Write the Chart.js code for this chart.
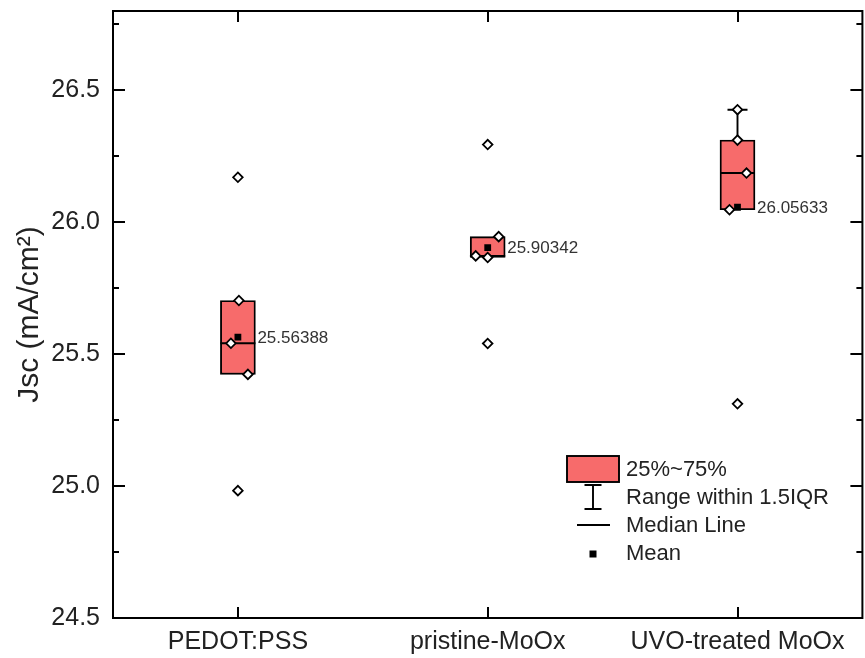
<!DOCTYPE html>
<html>
<head>
<meta charset="utf-8">
<script src="https://cdn.jsdelivr.net/npm/chart.js@4"></script>
<style>
  html, body { margin: 0; padding: 0; background: #fff; overflow: hidden; }
</style>
</head>
<body>
<canvas id="jscChart" width="869" height="658"></canvas>
<script>
const categories = ['PEDOT:PSS', 'pristine-MoOx', 'UVO-treated MoOx'];
const pedotJsc = [26.170, 25.703, 25.541, 25.423, 24.9824];
const pristineJsc = [26.294, 25.945, 25.872, 25.866, 25.5401];
const uvoJsc = [26.426, 26.311, 26.186, 26.047, 25.31165];
const yTicks = [24.5, 25.0, 25.5, 26.0, 26.5];
const legendLabels = ['25%~75%', 'Range within 1.5IQR', 'Median Line', 'Mean'];

// sideways spread of the overlaid points, in category units
const pointSpread = [
    [0, 0.004, -0.028, 0.04, 0],
    [0, 0.044, -0.048, 0, 0],
    [0, 0, 0.036, -0.032, 0]
];

const BOX_COLOR = '#f76b6b';
const FONT = "'Liberation Sans', Arial, sans-serif";
const BOX_WIDTH = 35;
const LINE = 1.9;

function median(arr) {
    const m = arr.length;
    return m % 2 ? arr[(m - 1) / 2] : (arr[m / 2 - 1] + arr[m / 2]) / 2;
}

// Tukey hinges, whiskers within 1.5 IQR, mean
function boxStats(values) {
    const s = [...values].sort((a, b) => a - b);
    const n = s.length;
    const half = Math.floor(n / 2);
    const lower = s.slice(0, n % 2 ? half + 1 : half);
    const upper = s.slice(half);
    const q1 = median(lower);
    const q3 = median(upper);
    const iqr = q3 - q1;
    const inside = s.filter(v => v >= q1 - 1.5 * iqr && v <= q3 + 1.5 * iqr);
    return {
        q1: q1,
        q3: q3,
        med: median(s),
        lo: Math.min(...inside),
        hi: Math.max(...inside),
        mean: s.reduce((a, b) => a + b, 0) / n
    };
}

const groups = [pedotJsc, pristineJsc, uvoJsc];
const stats = groups.map(boxStats);

const pointData = [];
groups.forEach((vals, i) => {
    vals.forEach((v, j) => pointData.push({ x: i + pointSpread[i][j], y: v }));
});

// median lines, whiskers and mean labels on top of the boxes
const boxExtras = {
    id: 'boxExtras',
    afterDatasetDraw(chart, args) {
        if (args.index !== 0) return;
        const ctx = chart.ctx;
        const xs = chart.scales.x, ys = chart.scales.y;
        ctx.save();
        ctx.strokeStyle = '#000';
        ctx.lineWidth = LINE;
        stats.forEach((st, i) => {
            const cx = xs.getPixelForValue(i);
            const half = BOX_WIDTH / 2;
            // median
            const ym = ys.getPixelForValue(st.med);
            ctx.beginPath();
            ctx.moveTo(cx - half, ym);
            ctx.lineTo(cx + half, ym);
            ctx.stroke();
            // whiskers
            [[st.q3, st.hi], [st.q1, st.lo]].forEach(([from, to]) => {
                if (Math.abs(to - from) < 1e-9) return;
                const y0 = ys.getPixelForValue(from), y1 = ys.getPixelForValue(to);
                ctx.beginPath();
                ctx.moveTo(cx, y0);
                ctx.lineTo(cx, y1);
                ctx.moveTo(cx - 10, y1);
                ctx.lineTo(cx + 10, y1);
                ctx.stroke();
            });
        });
        ctx.restore();
    },
    afterDatasetsDraw(chart) {
        const ctx = chart.ctx;
        const xs = chart.scales.x, ys = chart.scales.y;
        ctx.save();
        ctx.font = '17px ' + FONT;
        ctx.fillStyle = '#333';
        ctx.textAlign = 'left';
        ctx.textBaseline = 'middle';
        stats.forEach((st, i) => {
            const x = xs.getPixelForValue(i) + BOX_WIDTH / 2 + 2;
            ctx.fillText(st.mean.toFixed(5), x, ys.getPixelForValue(st.mean) + 1);
        });
        ctx.restore();
    }
};

// closed frame with inward ticks, plus the legend
const frame = {
    id: 'frame',
    afterDraw(chart) {
        const ctx = chart.ctx;
        const a = chart.chartArea;
        const xs = chart.scales.x, ys = chart.scales.y;
        ctx.save();
        ctx.strokeStyle = '#000';
        ctx.lineWidth = 2;
        ctx.strokeRect(a.left, a.top, a.right - a.left, a.bottom - a.top);

        ctx.beginPath();
        for (let v = 24.5; v <= 26.8 + 1e-9; v += 0.25) {
            const y = Math.round(ys.getPixelForValue(v));
            const major = Math.abs(v * 2 - Math.round(v * 2)) < 1e-6;
            const len = major ? 12 : 6;
            ctx.moveTo(a.left, y);
            ctx.lineTo(a.left + len, y);
            ctx.moveTo(a.right, y);
            ctx.lineTo(a.right - len, y);
        }
        categories.forEach((c, i) => {
            const x = Math.round(xs.getPixelForValue(i));
            ctx.moveTo(x, a.bottom);
            ctx.lineTo(x, a.bottom - 11);
            ctx.moveTo(x, a.top);
            ctx.lineTo(x, a.top + 11);
        });
        ctx.stroke();

        // legend
        const lx = 567, ly = 456;
        ctx.lineWidth = LINE;
        ctx.fillStyle = BOX_COLOR;
        ctx.fillRect(lx, ly, 52, 26);
        ctx.strokeRect(lx, ly, 52, 26);

        const bx = lx + 26;
        ctx.beginPath();
        ctx.moveTo(bx, 485);
        ctx.lineTo(bx, 509);
        ctx.moveTo(bx - 8.5, 485);
        ctx.lineTo(bx + 8.5, 485);
        ctx.moveTo(bx - 8.5, 509);
        ctx.lineTo(bx + 8.5, 509);
        ctx.moveTo(bx - 16, 525);
        ctx.lineTo(bx + 17, 525);
        ctx.stroke();

        ctx.fillStyle = '#000';
        ctx.fillRect(bx - 3.5, 550.5, 7, 7);

        ctx.font = '22px ' + FONT;
        ctx.fillStyle = '#222';
        ctx.textAlign = 'left';
        ctx.textBaseline = 'middle';
        const rows = [469, 497, 525, 553];
        legendLabels.forEach((t, k) => ctx.fillText(t, 626, rows[k] + 1));
        ctx.restore();
    }
};

new Chart(document.getElementById('jscChart'), {
    type: 'bar',
    data: {
        datasets: [
            {
                type: 'bar',
                data: stats.map((st, i) => ({ x: i, y: [st.q1, st.q3] })),
                backgroundColor: BOX_COLOR,
                borderColor: '#000',
                borderWidth: LINE,
                borderSkipped: false,
                barThickness: BOX_WIDTH,
                order: 3
            },
            {
                type: 'scatter',
                data: pointData,
                pointStyle: 'rectRot',
                pointRadius: 4.8,
                pointBackgroundColor: '#fff',
                pointBorderColor: '#000',
                pointBorderWidth: 1.8,
                order: 2
            },
            {
                type: 'scatter',
                data: stats.map((st, i) => ({ x: i, y: st.mean })),
                pointStyle: 'rect',
                pointRadius: 4.8,
                pointBackgroundColor: '#000',
                pointBorderColor: '#000',
                pointBorderWidth: 0,
                order: 1
            }
        ]
    },
    options: {
        responsive: false,
        animation: false,
        layout: { padding: { top: 11, right: 0, left: 0, bottom: 0 } },
        plugins: {
            legend: { display: false },
            tooltip: { enabled: false }
        },
        scales: {
            x: {
                type: 'linear',
                min: -0.5,
                max: 2.5,
                offset: false,
                grid: { display: false, drawTicks: false, offset: false },
                border: { display: false },
                afterBuildTicks: scale => { scale.ticks = categories.map((c, i) => ({ value: i })); },
                afterFit: scale => {
                    scale.height = 40;
                    scale.paddingLeft = 0;
                    scale.paddingRight = 0;
                },
                ticks: {
                    padding: 9,
                    color: '#222',
                    font: { family: FONT, size: 25 },
                    maxRotation: 0,
                    callback: v => categories[v]
                }
            },
            y: {
                min: 24.5,
                max: 26.8,
                grid: { display: false, drawTicks: false },
                border: { display: false },
                afterBuildTicks: scale => { scale.ticks = yTicks.map(v => ({ value: v })); },
                afterFit: scale => {
                    scale.width = 113;
                    scale.paddingTop = 0;
                    scale.paddingBottom = 0;
                },
                ticks: {
                    padding: 13,
                    color: '#222',
                    font: { family: FONT, size: 25 },
                    callback: v => v.toFixed(1)
                },
                title: {
                    display: true,
                    text: 'Jsc (mA/cm²)',
                    color: '#222',
                    font: { family: FONT, size: 30 },
                    padding: { top: 12, bottom: 0 }
                }
            }
        }
    },
    plugins: [boxExtras, frame]
});
</script>
</body>
</html>
